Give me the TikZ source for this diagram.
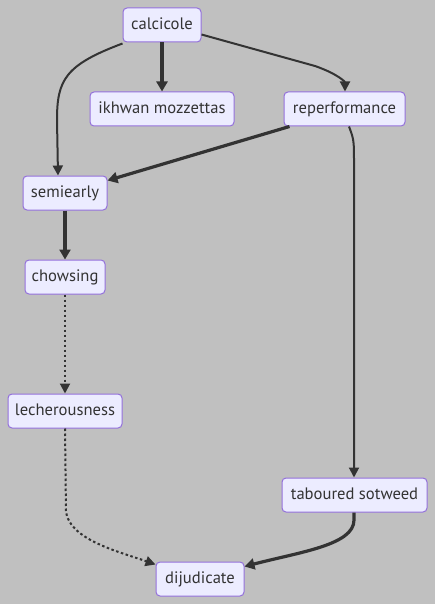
\documentclass[tikz,border=0pt]{standalone}
\usepackage{fontspec}
\setmainfont{PT Sans}
\usetikzlibrary{arrows.meta}
\definecolor{bg}{HTML}{C0C0C0}
\definecolor{nodefill}{HTML}{ECECFF}
\definecolor{nodeline}{HTML}{9370DB}
\definecolor{edge}{HTML}{333333}
\tikzset{
  box/.style={draw=nodeline, fill=nodefill, line width=1pt, rounded corners=4pt,
    minimum height=34pt, inner sep=0pt, text=edge, text height=12pt, text depth=3.5pt,
    font=\fontsize{16.6}{20}\selectfont},
  link/.style={draw=edge, line width=2pt, -{Triangle[length=10pt,width=10pt]}},
  thick link/.style={draw=edge, line width=3.2pt, -{Triangle[length=10pt,width=11pt]}},
  dot link/.style={draw=edge, line width=2pt, dash pattern=on 2.5pt off 2.5pt, -{Triangle[length=10pt,width=10pt]}},
}
\begin{document}
\begin{tikzpicture}[x=1pt,y=-1pt]
\fill[bg] (0,0) rectangle (435,604);
\useasboundingbox (0,0) rectangle (435,604);
\node[box, minimum width=78pt] (calcicole) at (162,25) {calcicole};
\node[box, minimum width=144pt] (ikhwan) at (162,109) {ikhwan mozzettas};
\node[box, minimum width=121pt] (reperf) at (344.5,109) {reperformance};
\node[box, minimum width=84pt] (semiearly) at (65,193) {semiearly};
\node[box, minimum width=80pt] (chowsing) at (65,277) {chowsing};
\node[box, minimum width=114pt] (lecher) at (65,411) {lecherousness};
\node[box, minimum width=145pt] (taboured) at (354.5,495) {taboured sotweed};
\node[box, minimum width=88pt] (dijud) at (200,579) {dijudicate};

\draw[thick link] (calcicole.south) -- (ikhwan.north);
\draw[link] ([yshift=-1pt]calcicole.south west) .. controls (65,65) and (57,80) .. (57,120) -- ([xshift=-7pt]semiearly.north);
\draw[link] ([yshift=8pt]calcicole.south east) -- (315,66) .. controls (338,74) and (345,82) .. ([xshift=0.5pt]reperf.north);
\draw[thick link] ([xshift=6pt]reperf.south west) -- ([yshift=-5pt]semiearly.north east);
\draw[link] ([xshift=4.5pt]reperf.south) .. controls (354,140) .. (354,165) -- ([xshift=-0.5pt]taboured.north);
\draw[thick link] (semiearly.south) -- (chowsing.north);
\draw[dot link] (chowsing.south) -- (lecher.north);
\draw[dot link] (lecher.south) -- (66,512) .. controls (70,540) and (120,552) .. ([yshift=-3pt]dijud.north west);
\draw[thick link] ([xshift=-0.5pt]taboured.south) -- (354,520) .. controls (354,545) and (300,552) .. ([yshift=-5pt]dijud.north east);
\end{tikzpicture}
\end{document}
